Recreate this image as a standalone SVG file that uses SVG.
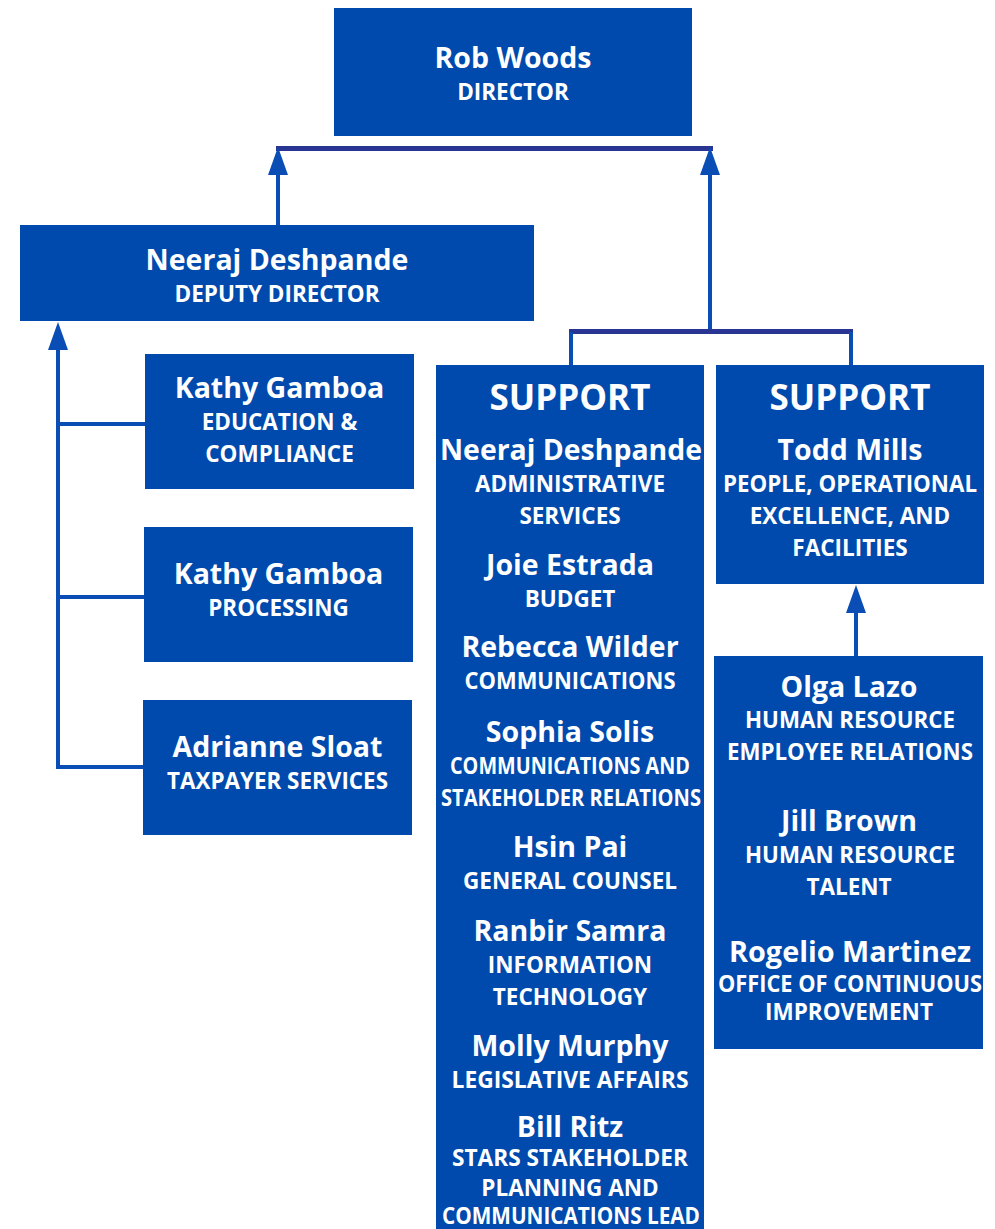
<svg xmlns="http://www.w3.org/2000/svg" width="995" height="1229" viewBox="0 0 995 1229">
<defs>
<style>
.box{fill:#004AAD}
.t{font-family:"Open Sans","Liberation Sans",sans-serif;font-weight:bold;fill:#ffffff;text-anchor:middle}
.n{font-size:28.5px}
.s{font-size:22.5px}
.h{font-size:35px}
.ln{stroke:#0A4DB5;stroke-width:4;fill:none}
.bar{stroke:#283593;stroke-width:5;fill:none}
</style>
<marker id="arr" markerUnits="userSpaceOnUse" markerWidth="28" markerHeight="20" refX="0" refY="10" orient="auto" viewBox="0 0 28 20">
<path d="M0,0 L28,10 L0,20 z" fill="#0A4DB5"/>
</marker>
</defs>
<rect width="995" height="1229" fill="#ffffff"/>
<g id="connectors">
<line class="bar" x1="276" y1="148.5" x2="713" y2="148.5"/>
<line class="ln" x1="278" y1="225" x2="278" y2="175" marker-end="url(#arr)"/>
<line class="ln" x1="710" y1="331" x2="710" y2="175" marker-end="url(#arr)"/>
<line class="bar" x1="569" y1="331.5" x2="853" y2="331.5"/>
<line class="ln" x1="571" y1="332" x2="571" y2="366"/>
<line class="ln" x1="851" y1="332" x2="851" y2="366"/>
<line class="ln" x1="856" y1="657" x2="856" y2="613" marker-end="url(#arr)"/>
<line class="ln" x1="58" y1="769" x2="58" y2="350" marker-end="url(#arr)"/>
<line class="ln" x1="56" y1="424" x2="146" y2="424"/>
<line class="ln" x1="56" y1="597" x2="145" y2="597"/>
<line class="ln" x1="56" y1="767" x2="144" y2="767"/>
</g>
<g id="rob-woods">
<rect class="box" x="334" y="8" width="358" height="128"/>
<text class="t n" x="513" y="68">Rob Woods</text>
<text class="t s" x="513" y="100">DIRECTOR</text>
</g>
<g id="deputy">
<rect class="box" x="20" y="225" width="514" height="96"/>
<text class="t n" x="277" y="270">Neeraj Deshpande</text>
<text class="t s" x="277" y="302">DEPUTY DIRECTOR</text>
</g>
<g id="kathy-education">
<rect class="box" x="145" y="354" width="269" height="135"/>
<text class="t n" x="279.5" y="398">Kathy Gamboa</text>
<text class="t s" x="279.5" y="430">EDUCATION &amp;</text>
<text class="t s" x="279.5" y="462">COMPLIANCE</text>
</g>
<g id="kathy-processing">
<rect class="box" x="144" y="527" width="269" height="135"/>
<text class="t n" x="278.5" y="584">Kathy Gamboa</text>
<text class="t s" x="278.5" y="616">PROCESSING</text>
</g>
<g id="adrianne">
<rect class="box" x="143" y="700" width="269" height="135"/>
<text class="t n" x="277.5" y="757">Adrianne Sloat</text>
<text class="t s" x="277.5" y="789" textLength="221" lengthAdjust="spacingAndGlyphs">TAXPAYER SERVICES</text>
</g>
<g id="support-left">
<rect class="box" x="436" y="365" width="268" height="864"/>
<text class="t h" x="570" y="410">SUPPORT</text>
<text class="t n" x="571" y="460" textLength="262" lengthAdjust="spacingAndGlyphs">Neeraj Deshpande</text>
<text class="t s" x="570" y="492">ADMINISTRATIVE</text>
<text class="t s" x="570" y="524">SERVICES</text>
<text class="t n" x="570" y="575">Joie Estrada</text>
<text class="t s" x="570" y="607">BUDGET</text>
<text class="t n" x="570" y="657">Rebecca Wilder</text>
<text class="t s" x="570" y="689" textLength="211" lengthAdjust="spacingAndGlyphs">COMMUNICATIONS</text>
<text class="t n" x="570" y="742">Sophia Solis</text>
<text class="t s" x="570" y="774" textLength="240" lengthAdjust="spacingAndGlyphs">COMMUNICATIONS AND</text>
<text class="t s" x="571" y="806" textLength="260" lengthAdjust="spacingAndGlyphs">STAKEHOLDER RELATIONS</text>
<text class="t n" x="570" y="857">Hsin Pai</text>
<text class="t s" x="570" y="889">GENERAL COUNSEL</text>
<text class="t n" x="570" y="941">Ranbir Samra</text>
<text class="t s" x="570" y="973">INFORMATION</text>
<text class="t s" x="570" y="1005">TECHNOLOGY</text>
<text class="t n" x="570" y="1056">Molly Murphy</text>
<text class="t s" x="570" y="1088" textLength="237" lengthAdjust="spacingAndGlyphs">LEGISLATIVE AFFAIRS</text>
<text class="t n" x="570" y="1137">Bill Ritz</text>
<text class="t s" x="570" y="1166" textLength="236" lengthAdjust="spacingAndGlyphs">STARS STAKEHOLDER</text>
<text class="t s" x="570" y="1196">PLANNING AND</text>
<text class="t s" x="571" y="1224" textLength="258" lengthAdjust="spacingAndGlyphs">COMMUNICATIONS LEAD</text>
</g>
<g id="support-right">
<rect class="box" x="716" y="365" width="268" height="219"/>
<text class="t h" x="850" y="410">SUPPORT</text>
<text class="t n" x="850" y="460">Todd Mills</text>
<text class="t s" x="850" y="492" textLength="254" lengthAdjust="spacingAndGlyphs">PEOPLE, OPERATIONAL</text>
<text class="t s" x="850" y="524">EXCELLENCE, AND</text>
<text class="t s" x="850" y="556">FACILITIES</text>
</g>
<g id="hr-group">
<rect class="box" x="714" y="656" width="269" height="393"/>
<text class="t n" x="849" y="697">Olga Lazo</text>
<text class="t s" x="850" y="728" textLength="210" lengthAdjust="spacingAndGlyphs">HUMAN RESOURCE</text>
<text class="t s" x="850" y="760" textLength="246" lengthAdjust="spacingAndGlyphs">EMPLOYEE RELATIONS</text>
<text class="t n" x="849" y="831">Jill Brown</text>
<text class="t s" x="850" y="863" textLength="210" lengthAdjust="spacingAndGlyphs">HUMAN RESOURCE</text>
<text class="t s" x="849" y="895">TALENT</text>
<text class="t n" x="850" y="962" textLength="242" lengthAdjust="spacingAndGlyphs">Rogelio Martinez</text>
<text class="t s" x="850" y="992" textLength="264" lengthAdjust="spacingAndGlyphs">OFFICE OF CONTINUOUS</text>
<text class="t s" x="849" y="1020">IMPROVEMENT</text>
</g>
</svg>
